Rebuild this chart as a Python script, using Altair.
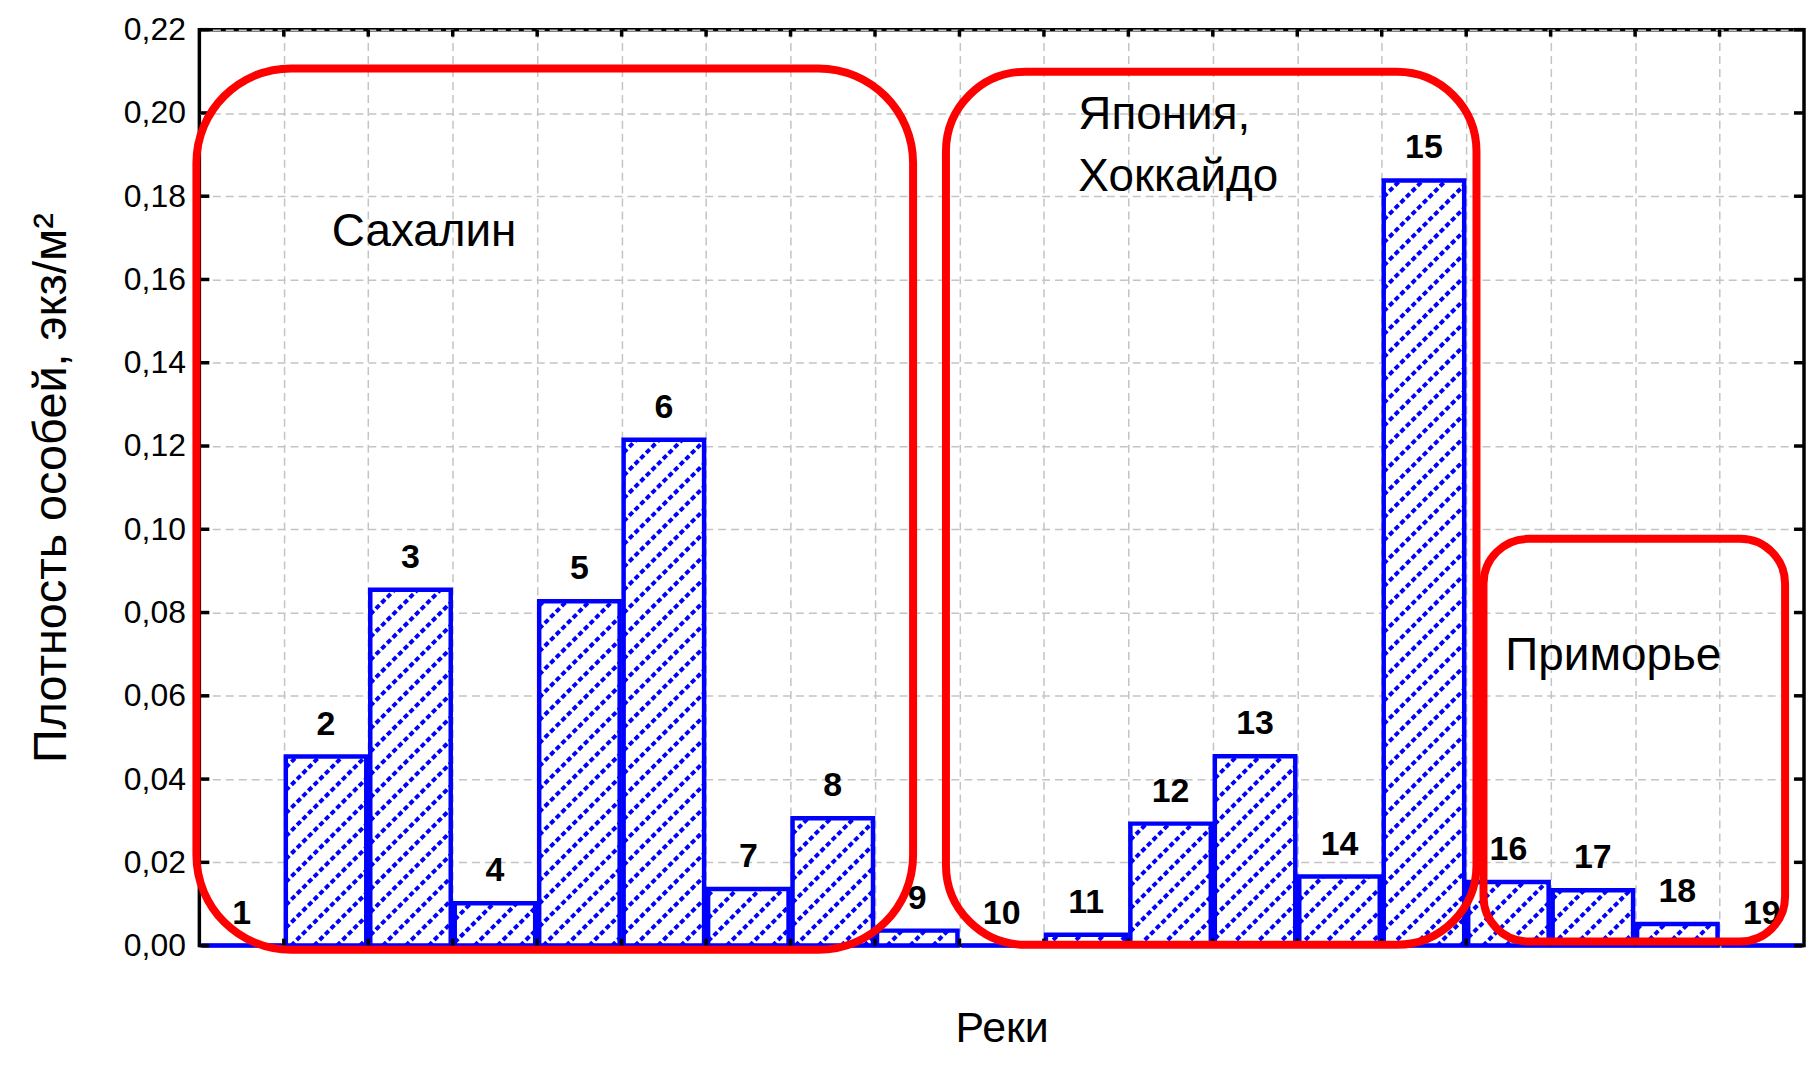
import altair as alt
import pandas as pd
import numpy as np

# ---------------- data ----------------
rivers = list(range(1, 20))
density = [0.0, 0.0454, 0.0855, 0.0102, 0.0827, 0.1215, 0.0136, 0.0306, 0.0036, 0.0,
           0.0026, 0.0293, 0.0455, 0.0166, 0.1838, 0.0153, 0.0133, 0.0052, 0.0]
y_ticks = [0.0, 0.02, 0.04, 0.06, 0.08, 0.10, 0.12, 0.14, 0.16, 0.18, 0.20, 0.22]
x_edges = [k + 0.5 for k in range(1, 19)]

# region annotations (data units)
region_names = ["Сахалин", "Япония", "Приморье"]
box_x1 = [0.465, 9.34, 15.705]
box_x2 = [8.951, 15.622, 19.276]
box_y1 = [-0.001, 0.0002, 0.001]
box_y2 = [0.2107, 0.2099, 0.0977]
box_radius = [95, 80, 45]

region_text = ["Сахалин", "Япония,", "Хоккайдо", "Приморье"]
region_text_x = [2.068, 10.908, 10.908, 15.964]
region_text_y = [0.1681, 0.1961, 0.1812, 0.0663]

# ---------------- layout / style ----------------
W, H = 1610, 919
BLUE = "#0000ff"
RED = "#ff0000"
FONT = "Liberation Sans"

xs = alt.Scale(domain=[0.5, 19.5], nice=False, zero=False)
ys = alt.Scale(domain=[0, 0.22], nice=False)

x_axis = alt.Axis(values=x_edges, labels=False, ticks=False, domain=False,
                  grid=True, gridDash=[8, 5], gridColor="#c4c4c4", gridWidth=1.5,
                  title="Реки", titleFontSize=43, titleFont=FONT,
                  titleFontWeight="normal", titleColor="black",
                  titleBaseline="alphabetic", titleY=96)
y_axis = alt.Axis(values=y_ticks, labelExpr="replace(format(datum.value, '.2f'), '.', ',')",
                  labelFontSize=32, labelFont=FONT, labelColor="black", labelPadding=14,
                  ticks=False, domain=False,
                  grid=True, gridDash=[8, 5], gridColor="#c4c4c4", gridWidth=1.5,
                  title="Плотность особей, экз/м²", titleFontSize=47, titleFont=FONT,
                  titleFontWeight="normal", titleColor="black",
                  titleBaseline="alphabetic", titleAngle=270,
                  titleX=-134)

bars_df = pd.DataFrame({"river": rivers, "density": density})
bars_df["x1"] = bars_df["river"] - 0.5 + 2 / (W / 19)
bars_df["x2"] = bars_df["river"] + 0.5 - 2 / (W / 19)

# hatch segments (diagonal "/" lines clipped to each bar)
px_x = W / len(rivers)
px_y = H / 0.22
s = px_x / px_y
d = 23 / px_x
segs = []
for r, v, a, b in zip(bars_df["river"], bars_df["density"], bars_df["x1"], bars_df["x2"]):
    if v <= 0:
        continue
    j0 = int(np.floor((a - v / s - 0.5) / d)) - 1
    j1 = int(np.ceil((b - 0.5) / d)) + 1
    for j in range(j0, j1 + 1):
        c = 0.5 + j * d
        lo = max(a, c)
        hi = min(b, c + v / s)
        if hi - lo > 1e-6:
            segs.append(dict(x1=lo, density=s * (lo - c), x2=hi, y2=s * (hi - c)))
hatch_df = pd.DataFrame(segs)

ticks_df = pd.DataFrame({"density": y_ticks})
edges_df = pd.DataFrame({"x1": x_edges})
boxes_df = pd.DataFrame({"name": region_names, "x1": box_x1, "x2": box_x2,
                         "density": box_y1, "y2": box_y2, "r": box_radius})
rtext_df = pd.DataFrame({"txt": region_text, "x1": region_text_x, "density": region_text_y})


def X(field="x1"):
    return alt.X(f"{field}:Q", scale=xs, axis=x_axis)


def Y(field="density"):
    return alt.Y(f"{field}:Q", scale=ys, axis=y_axis)


# ---------------- layers ----------------
bars_fill = alt.Chart(bars_df).mark_rect(fill="white", strokeWidth=0).encode(
    x=X(), x2="x2:Q", y=Y(), y2=alt.datum(0))

hatch = alt.Chart(hatch_df).mark_rule(color=BLUE, strokeWidth=4, strokeDash=[5, 3]).encode(
    x=X(), x2="x2:Q", y=Y(), y2="y2:Q")

bars_line = alt.Chart(bars_df).mark_rect(fillOpacity=0, stroke=BLUE, strokeWidth=4.5).encode(
    x=X(), x2="x2:Q", y=Y(), y2=alt.datum(0))

ytick_l = alt.Chart(ticks_df).mark_rule(color="black", strokeWidth=3.5).encode(
    y=Y(), x=alt.value(0), x2=alt.value(10))
ytick_r = alt.Chart(ticks_df).mark_rule(color="black", strokeWidth=3.5).encode(
    y=Y(), x=alt.value(W - 10), x2=alt.value(W))
xtick_b = alt.Chart(edges_df).mark_rule(color="black", strokeWidth=3.5).encode(
    x=X(), y=alt.value(H), y2=alt.value(H - 7))
xtick_t = alt.Chart(edges_df).mark_rule(color="black", strokeWidth=3.5).encode(
    x=X(), y=alt.value(0), y2=alt.value(7))

labels_df = bars_df.assign(xc=bars_df["river"])
labels = alt.Chart(labels_df).mark_text(fontSize=34, fontWeight="bold", font=FONT,
                                        color="black", baseline="middle", dy=-32).encode(
    x=X("xc"), y=Y(), text="river:N")

box_layers = []
for i, r in enumerate(box_radius):
    box_layers.append(
        alt.Chart(boxes_df.iloc[[i]]).mark_rect(fillOpacity=0, stroke=RED, strokeWidth=8,
                                                 cornerRadius=r).encode(
            x=X(), x2="x2:Q", y=Y(), y2="y2:Q")
    )

rtext = alt.Chart(rtext_df).mark_text(fontSize=46, font=FONT, color="black",
                                      align="left", baseline="alphabetic").encode(
    x=X(), y=Y(), text="txt:N")

chart = alt.layer(
    bars_fill, hatch, bars_line, ytick_l, ytick_r, xtick_b, xtick_t, labels,
    *box_layers, rtext
).properties(
    width=W, height=H,
    background="white",
    autosize=alt.AutoSizeParams(type="none"),
    padding={"left": 192, "top": 20, "right": 2, "bottom": 105},
).configure_view(
    stroke="black", strokeWidth=3.5
)

chart.save("out.html", embed_options={"renderer": "svg", "actions": False})
